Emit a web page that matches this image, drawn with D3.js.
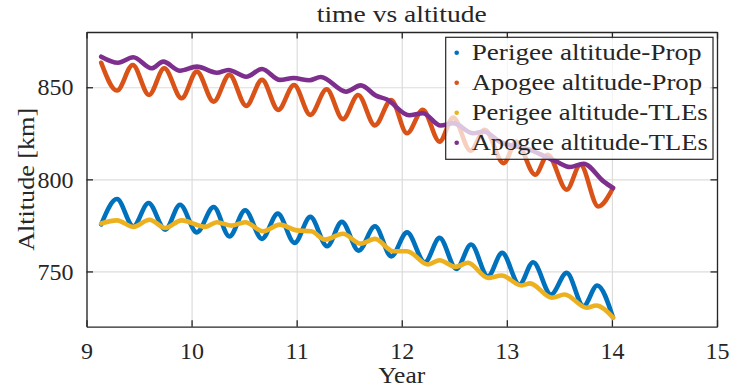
<!DOCTYPE html>
<html>
<head>
<meta charset="utf-8">
<script src="https://cdn.jsdelivr.net/npm/d3@7"></script>
<style>
  body { margin: 0; background: #fff; }
  svg { display: block; }
  text { font-family: "Liberation Serif", "Times New Roman", serif; fill: #262626; }
</style>
</head>
<body>
<svg id="chart"></svg>
<script>
// data (year, km)
var perigeePropX = [9.14, 9.29, 9.445, 9.59, 9.75, 9.89, 10.05, 10.21, 10.36, 10.51, 10.67, 10.82, 10.98, 11.13, 11.29, 11.43, 11.59, 11.745, 11.90, 12.05, 12.22, 12.36, 12.52, 12.66, 12.82, 12.955, 13.12, 13.25, 13.42, 13.57, 13.73, 13.86, 14.01];
var perigeePropY = [775.5, 789.3, 774.5, 787.2, 772.7, 786.2, 771.2, 785, 769, 783.2, 767.7, 781.4, 765.5, 779.6, 763.7, 776.9, 761.3, 774.5, 758.2, 771.2, 755, 768.2, 751.4, 764.6, 747.4, 760.1, 742.9, 755, 737.5, 749.2, 731.2, 742.4, 725];

var apogeePropX = [9.14, 9.29, 9.44, 9.595, 9.74, 9.905, 10.05, 10.21, 10.36, 10.52, 10.67, 10.825, 10.975, 11.13, 11.285, 11.44, 11.585, 11.745, 11.90, 12.05, 12.2, 12.36, 12.49, 12.655, 12.79, 12.97, 13.09, 13.27, 13.39, 13.57, 13.70, 13.87, 14.01];
var apogeePropY = [863.3, 848.2, 862.1, 845.8, 860.3, 844, 858.5, 842.2, 856.7, 839.9, 854, 837.7, 851.2, 835, 848.9, 832.7, 845.8, 829.3, 843.1, 825, 837.7, 820.5, 833.5, 815.5, 826.9, 808.8, 820.5, 802.5, 813.3, 794.4, 807.9, 785.3, 795.3];

var perigeeTleX = [9.14, 9.29, 9.445, 9.60, 9.75, 9.905, 10.13, 10.24, 10.38, 10.51, 10.68, 10.84, 11.0, 11.14, 11.27, 11.44, 11.61, 11.745, 11.92, 12.05, 12.25, 12.36, 12.51, 12.63, 12.82, 12.95, 13.14, 13.22, 13.43, 13.55, 13.76, 13.85, 14.01];
var perigeeTleY = [776, 777.7, 774.2, 778.1, 773.6, 777.7, 774.2, 776.7, 774.9, 776.7, 771.8, 775.4, 772.3, 771.8, 767.3, 770.5, 765.1, 767.7, 761, 761, 753.8, 756.1, 752.5, 754.7, 746.5, 747.8, 742.4, 743.5, 735.7, 737.5, 730.3, 731.5, 725];

var apogeeTleX = [9.14, 9.30, 9.445, 9.62, 9.73, 9.89, 10.05, 10.24, 10.35, 10.52, 10.67, 10.84, 10.97, 11.12, 11.23, 11.47, 11.61, 11.76, 11.855, 12.07, 12.2, 12.37, 12.49, 12.68, 12.78, 12.93, 13.22, 13.47, 13.60, 13.73, 13.92, 14.01];
var apogeeTleY = [866.6, 863.3, 866.3, 860.3, 863.9, 859, 861.2, 857.9, 859.4, 855.7, 859.9, 854, 855, 853.8, 855.6, 847.6, 851, 845.3, 843.5, 834.8, 835.9, 829.2, 830.5, 825, 826, 820.5, 816, 809.7, 806.7, 808.5, 798.9, 795.3];

var seriesNames = ["Perigee altitude-Prop", "Apogee altitude-Prop", "Perigee altitude-TLEs", "Apogee altitude-TLEs"];
var colors = ["#0072BD", "#D95319", "#EDB120", "#7E2F8E"];
var xTicks = [9, 10, 11, 12, 13, 14, 15];
var yTicks = [750, 800, 850];

var W = 731, H = 391;
var margin = { top: 32, right: 14, bottom: 64.3, left: 86.5 };
var width = W - margin.left - margin.right;
var height = H - margin.top - margin.bottom;

var svg = d3.select("#chart").attr("width", W).attr("height", H);
var g = svg.append("g").attr("transform", "translate(" + margin.left + "," + margin.top + ")");

var x = d3.scaleLinear().domain([9, 15]).range([0, width]);
var y = d3.scaleLinear().domain([720, 880]).range([height, 0]);

// grid
g.append("g").attr("transform", "translate(0," + height + ")")
  .call(d3.axisBottom(x).tickValues(xTicks).tickSize(-height).tickFormat(""))
  .call(function (a) { a.select(".domain").remove(); a.selectAll("line").attr("stroke", "#dcdcdc").attr("stroke-width", 1.2); });
g.append("g")
  .call(d3.axisLeft(y).tickValues(yTicks).tickSize(-width).tickFormat(""))
  .call(function (a) { a.select(".domain").remove(); a.selectAll("line").attr("stroke", "#dcdcdc").attr("stroke-width", 1.2); });

// lines
var seriesX = [perigeePropX, apogeePropX, perigeeTleX, apogeeTleX];
var seriesY = [perigeePropY, apogeePropY, perigeeTleY, apogeeTleY];
var line = d3.line().x(function (d) { return x(d[0]); }).y(function (d) { return y(d[1]); }).curve(d3.curveMonotoneX);

[0, 2, 1, 3].forEach(function (i) {
  var pts = seriesX[i].map(function (v, k) { return [v, seriesY[i][k]]; });
  g.append("path").datum(pts)
    .attr("d", line)
    .attr("fill", "none")
    .attr("stroke", colors[i])
    .attr("stroke-width", 4.6)
    .attr("stroke-linecap", "round")
    .attr("stroke-linejoin", "round");
});

// axes (ticks pointing inward, box)
function styleAxis(a) {
  a.attr("font-family", null).attr("font-size", null);
  a.select(".domain").attr("stroke", "#262626").attr("stroke-width", 1.3);
  a.selectAll(".tick line").attr("stroke", "#262626").attr("stroke-width", 1.3);
  a.selectAll("text").style("font-family", '"Liberation Serif", serif').style("font-size", "24px").attr("fill", "#262626");
}
g.append("g").attr("transform", "translate(0," + height + ")")
  .call(d3.axisBottom(x).tickValues(xTicks).tickFormat(d3.format("d")).tickSizeInner(-6.5).tickSizeOuter(0).tickPadding(15))
  .call(styleAxis);
g.append("g")
  .call(d3.axisTop(x).tickValues(xTicks).tickSizeInner(-6.5).tickSizeOuter(0).tickFormat(""))
  .call(styleAxis);
g.append("g")
  .call(d3.axisLeft(y).tickValues(yTicks).tickFormat(d3.format("d")).tickSizeInner(-6.5).tickSizeOuter(0).tickPadding(13))
  .call(styleAxis);
g.append("g").attr("transform", "translate(" + width + ",0)")
  .call(d3.axisRight(y).tickValues(yTicks).tickSizeInner(-6.5).tickSizeOuter(0).tickFormat(""))
  .call(styleAxis);

// titles, widths matched to the reference
function fit(sel, w) {
  sel.attr("textLength", w).attr("lengthAdjust", "spacingAndGlyphs");
}
svg.append("text").attr("x", margin.left + width / 2).attr("y", 22)
  .attr("text-anchor", "middle").attr("font-size", 23.5).text("time vs altitude")
  .call(fit, 170);
svg.append("text").attr("x", margin.left + width / 2).attr("y", 383)
  .attr("text-anchor", "middle").attr("font-size", 23.5).text("Year")
  .call(fit, 47);
svg.append("text")
  .attr("transform", "translate(34," + (margin.top + height / 2) + ") rotate(-90)")
  .attr("text-anchor", "middle").attr("font-size", 23.5).text("Altitude [km]")
  .call(fit, 143);

// legend
var legendWidths = [230, 230.5, 236, 236];
var lg = svg.append("g").attr("transform", "translate(445.7,37.3)");
lg.append("rect").attr("width", 267.3).attr("height", 122)
  .attr("fill", "#fff").attr("fill-opacity", 0.72)
  .attr("stroke", "#262626").attr("stroke-width", 1.2);
seriesNames.forEach(function (name, i) {
  var row = lg.append("g").attr("transform", "translate(0," + (15.5 + i * 30) + ")");
  row.append("circle").attr("cx", 11).attr("cy", 0).attr("r", 2.3).attr("fill", colors[i]);
  row.append("text").attr("x", 26).attr("y", 7.5).attr("font-size", 23.5).text(name)
    .call(fit, legendWidths[i]);
});
</script>
</body>
</html>
